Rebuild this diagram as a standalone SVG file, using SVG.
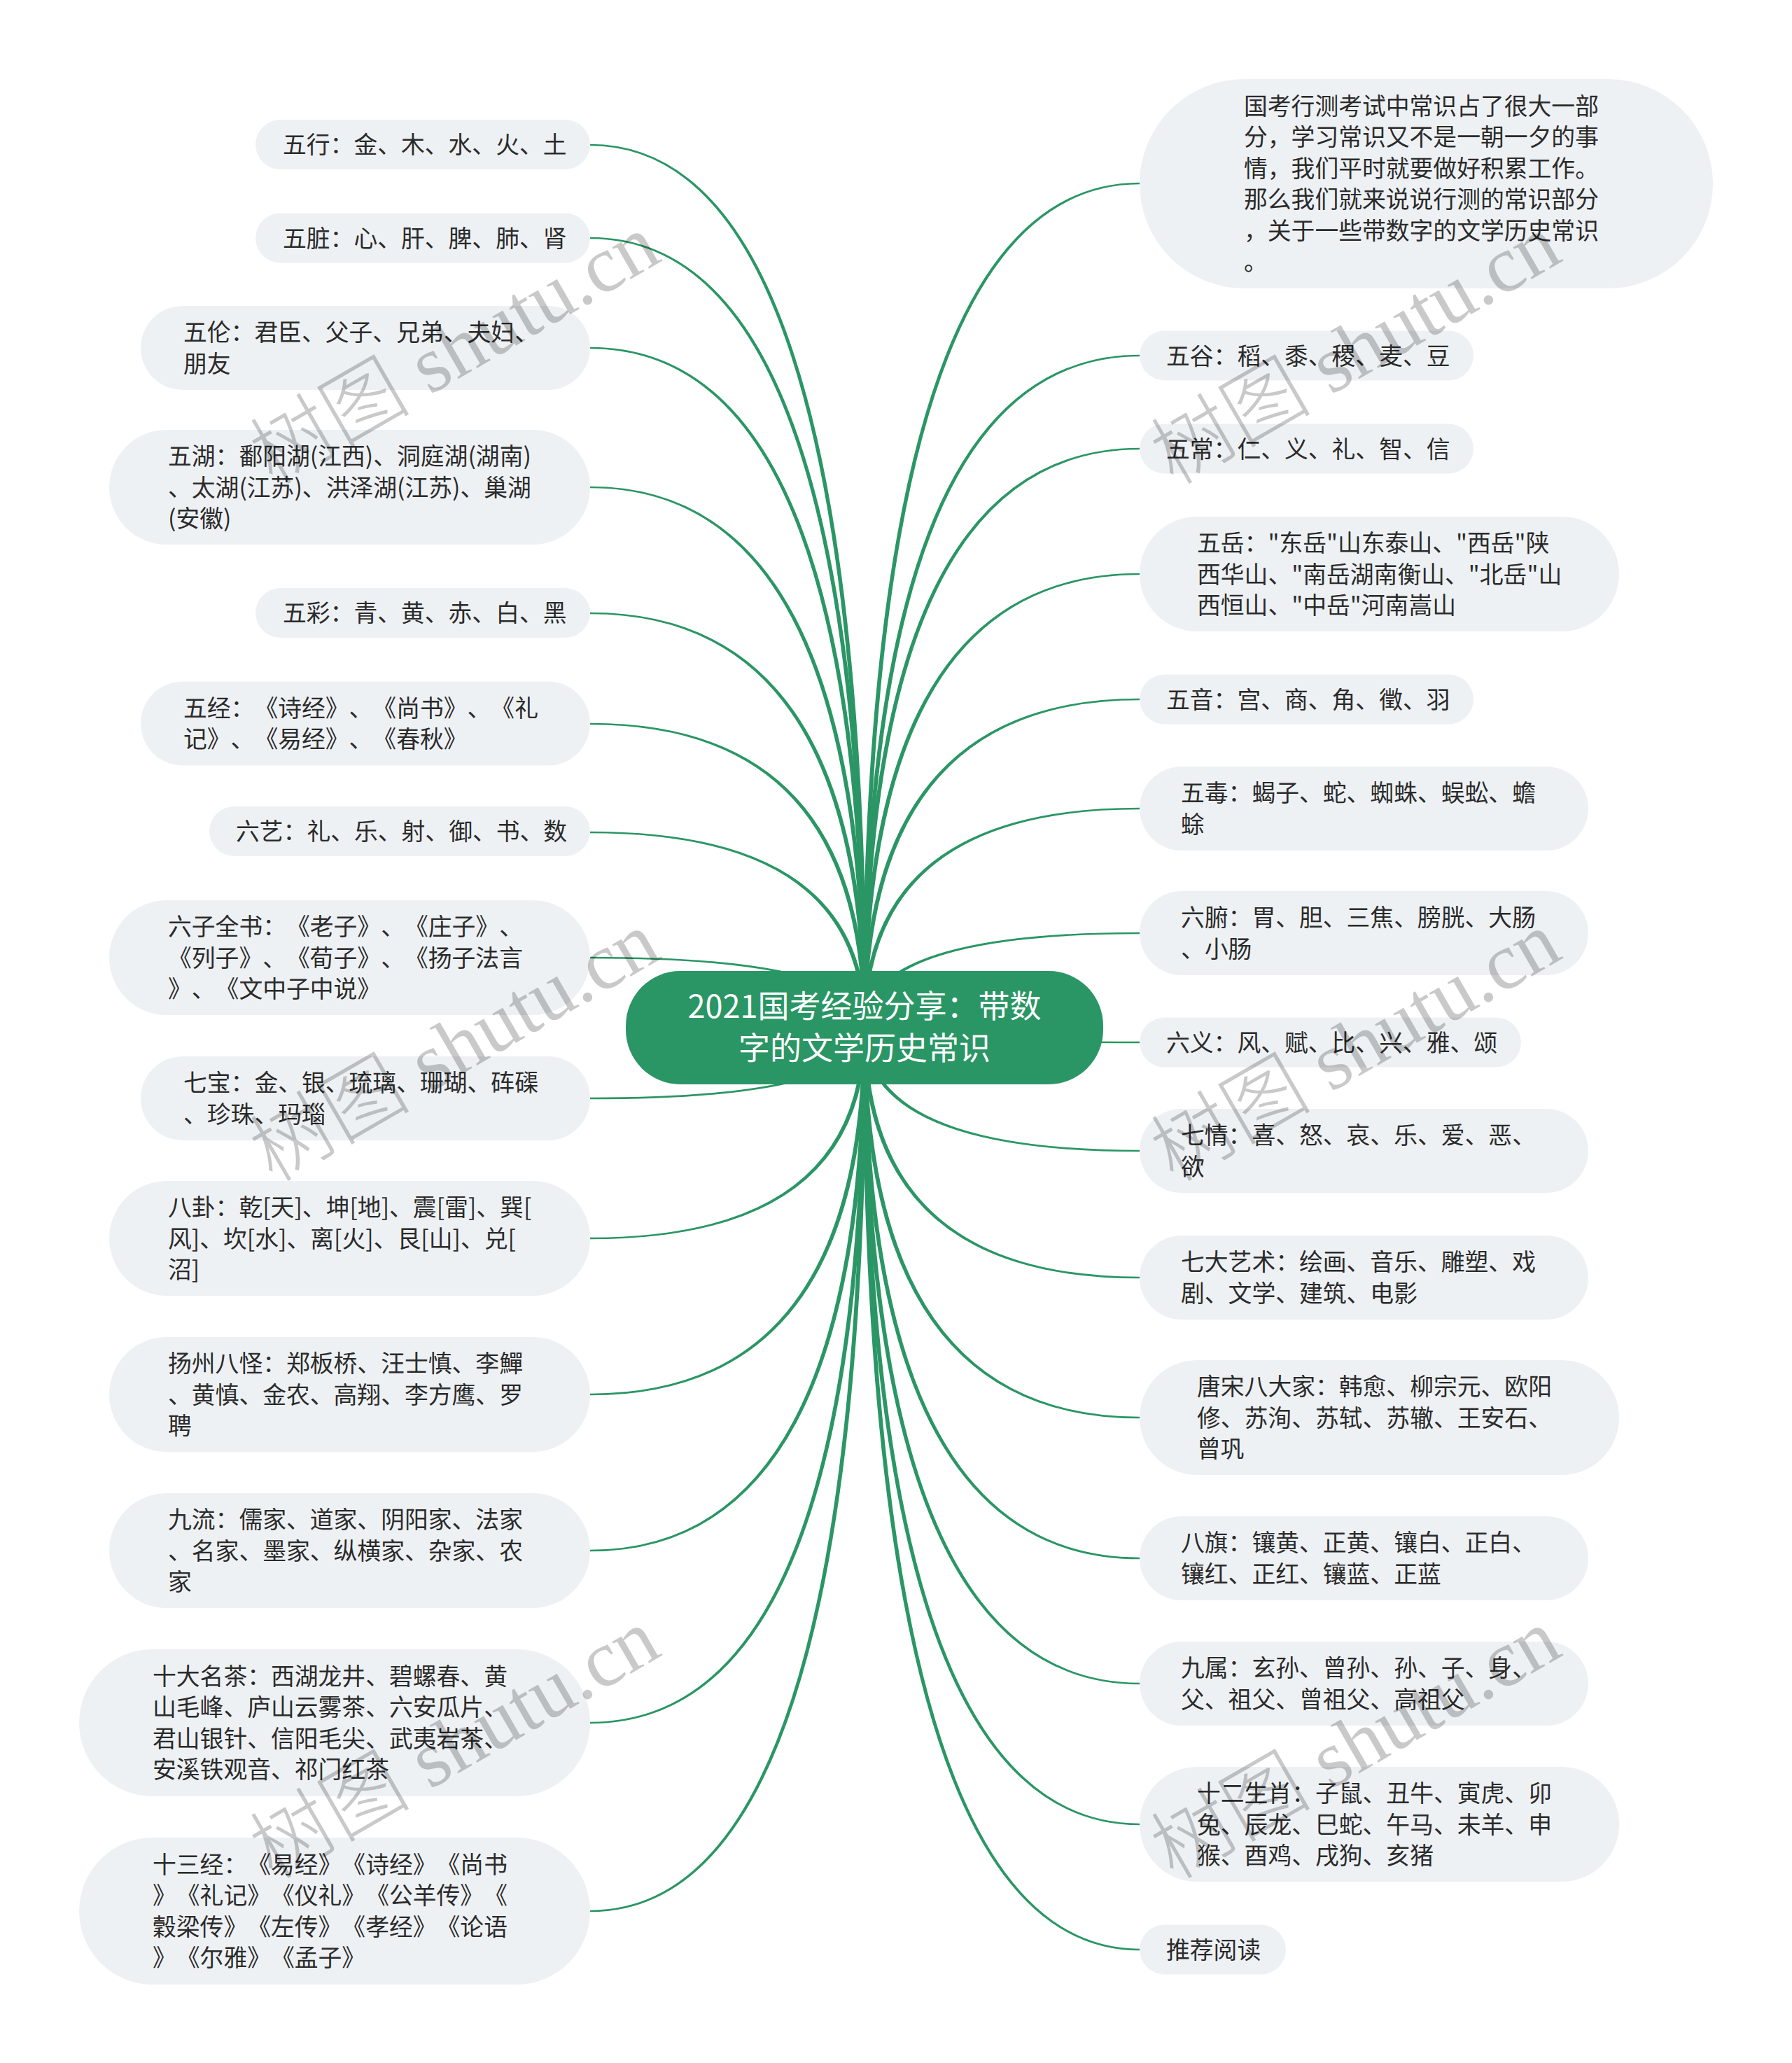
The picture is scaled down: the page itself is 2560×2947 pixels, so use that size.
<svg xmlns="http://www.w3.org/2000/svg" width="2560" height="2947" viewBox="0 0 2560 2947">
<style>
.leaf{fill:#eef1f4}
.t{font-family:"Noto Sans CJK SC","Noto Sans",sans-serif;font-size:33.8px;fill:#2b2b2b;text-spacing-trim:space-all;font-kerning:none}
.root{fill:#2b9665}
.rt{font-family:"Noto Sans CJK SC","Noto Sans",sans-serif;font-size:45px;fill:#ffffff;text-anchor:middle;text-spacing-trim:space-all}
.br{fill:#2b9665}
.wm{font-family:"Liberation Serif","Noto Sans CJK SC",serif;font-size:115px;font-weight:300;fill:#000000;fill-opacity:0.21;text-anchor:middle}
</style>
<rect width="2560" height="2947" fill="#ffffff"/>
<g id="connectors">
<path class="br" d="M1232,1468 Q1232,208.3 843,208.3 L843,205.7 Q1238,205.7 1238,1468Z"/>
<path class="br" d="M1232,1468 Q1232,341.3 843,341.3 L843,338.7 Q1238,338.7 1238,1468Z"/>
<path class="br" d="M1232,1468 Q1232,498.3 843,498.3 L843,495.7 Q1238,495.7 1238,1468Z"/>
<path class="br" d="M1232,1468 Q1232,697.3 843,697.3 L843,694.7 Q1238,694.7 1238,1468Z"/>
<path class="br" d="M1232,1468 Q1232,877.3 843,877.3 L843,874.7 Q1238,874.7 1238,1468Z"/>
<path class="br" d="M1232,1468 Q1232,1035.3 843,1035.3 L843,1032.7 Q1238,1032.7 1238,1468Z"/>
<path class="br" d="M1232,1468 Q1232,1190.3 843,1190.3 L843,1187.7 Q1238,1187.7 1238,1468Z"/>
<path class="br" d="M1232,1468 Q1232,1369.3 843,1369.3 L843,1366.7 Q1238,1366.7 1238,1468Z"/>
<path class="br" d="M1232,1468 Q1232,1567.7 843,1567.7 L843,1570.3 Q1238,1570.3 1238,1468Z"/>
<path class="br" d="M1232,1468 Q1232,1767.7 843,1767.7 L843,1770.3 Q1238,1770.3 1238,1468Z"/>
<path class="br" d="M1232,1468 Q1232,1990.7 843,1990.7 L843,1993.3 Q1238,1993.3 1238,1468Z"/>
<path class="br" d="M1232,1468 Q1232,2213.7 843,2213.7 L843,2216.3 Q1238,2216.3 1238,1468Z"/>
<path class="br" d="M1232,1468 Q1232,2459.7 843,2459.7 L843,2462.3 Q1238,2462.3 1238,1468Z"/>
<path class="br" d="M1232,1468 Q1232,2728.7 843,2728.7 L843,2731.3 Q1238,2731.3 1238,1468Z"/>
<path class="br" d="M1232,1468 Q1232,260.7 1628,260.7 L1628,263.3 Q1238,263.3 1238,1468Z"/>
<path class="br" d="M1232,1468 Q1232,506.7 1628,506.7 L1628,509.3 Q1238,509.3 1238,1468Z"/>
<path class="br" d="M1232,1468 Q1232,639.7 1628,639.7 L1628,642.3 Q1238,642.3 1238,1468Z"/>
<path class="br" d="M1232,1468 Q1232,818.7 1628,818.7 L1628,821.3 Q1238,821.3 1238,1468Z"/>
<path class="br" d="M1232,1468 Q1232,997.7 1628,997.7 L1628,1000.3 Q1238,1000.3 1238,1468Z"/>
<path class="br" d="M1232,1468 Q1232,1153.7 1628,1153.7 L1628,1156.3 Q1238,1156.3 1238,1468Z"/>
<path class="br" d="M1232,1468 Q1232,1331.7 1628,1331.7 L1628,1334.3 Q1238,1334.3 1238,1468Z"/>
<path class="br" d="M1232,1468 Q1232,1490.3 1628,1490.3 L1628,1487.7 Q1238,1487.7 1238,1468Z"/>
<path class="br" d="M1232,1468 Q1232,1645.3 1628,1645.3 L1628,1642.7 Q1238,1642.7 1238,1468Z"/>
<path class="br" d="M1232,1468 Q1232,1826.3 1628,1826.3 L1628,1823.7 Q1238,1823.7 1238,1468Z"/>
<path class="br" d="M1232,1468 Q1232,2026.3 1628,2026.3 L1628,2023.7 Q1238,2023.7 1238,1468Z"/>
<path class="br" d="M1232,1468 Q1232,2227.3 1628,2227.3 L1628,2224.7 Q1238,2224.7 1238,1468Z"/>
<path class="br" d="M1232,1468 Q1232,2406.3 1628,2406.3 L1628,2403.7 Q1238,2403.7 1238,1468Z"/>
<path class="br" d="M1232,1468 Q1232,2607.3 1628,2607.3 L1628,2604.7 Q1238,2604.7 1238,1468Z"/>
<path class="br" d="M1232,1468 Q1232,2786.3 1628,2786.3 L1628,2783.7 Q1238,2783.7 1238,1468Z"/>
</g>
<g id="root">
<rect class="root" x="894" y="1387" width="682" height="162" rx="78"/>
<text class="rt"><tspan x="1235" y="1454">2021国考经验分享：带数</tspan><tspan x="1235" y="1514">字的文学历史常识</tspan></text>
</g>
<g id="n-wuxing"><rect class="leaf" x="365" y="171" width="478" height="71" rx="35.5"/><text class="t" x="404" y="219">五行：金、木、水、火、土</text></g>
<g id="n-wuzang"><rect class="leaf" x="365" y="304.5" width="478" height="71" rx="35.5"/><text class="t" x="404" y="352.5">五脏：心、肝、脾、肺、肾</text></g>
<g id="n-wulun"><rect class="leaf" x="201" y="437" width="642" height="120" rx="60"/><text class="t"><tspan x="262" y="487.25">五伦：君臣、父子、兄弟、夫妇、</tspan><tspan x="262" y="531.75">朋友</tspan></text></g>
<g id="n-wuhu"><rect class="leaf" x="156" y="614" width="687" height="164" rx="82"/><text class="t"><tspan x="240" y="664">五湖：鄱阳湖(江西)、洞庭湖(湖南)</tspan><tspan x="240" y="708.5">、太湖(江苏)、洪泽湖(江苏)、巢湖</tspan><tspan x="240" y="753">(安徽)</tspan></text></g>
<g id="n-wucai"><rect class="leaf" x="365" y="840" width="478" height="71" rx="35.5"/><text class="t" x="404" y="888">五彩：青、黄、赤、白、黑</text></g>
<g id="n-wujing"><rect class="leaf" x="201" y="973.5" width="642" height="120" rx="60"/><text class="t"><tspan x="262" y="1023.75">五经：《诗经》、《尚书》、《礼</tspan><tspan x="262" y="1068.25">记》、《易经》、《春秋》</tspan></text></g>
<g id="n-liuyi"><rect class="leaf" x="299" y="1152" width="544" height="71" rx="35.5"/><text class="t" x="337" y="1200">六艺：礼、乐、射、御、书、数</text></g>
<g id="n-liuzi"><rect class="leaf" x="156" y="1286" width="687" height="164" rx="82"/><text class="t"><tspan x="240" y="1336">六子全书：《老子》、《庄子》、</tspan><tspan x="240" y="1380.5">《列子》、《荀子》、《扬子法言</tspan><tspan x="240" y="1425">》、《文中子中说》</tspan></text></g>
<g id="n-qibao"><rect class="leaf" x="201" y="1509" width="642" height="120" rx="60"/><text class="t"><tspan x="262" y="1559.25">七宝：金、银、琉璃、珊瑚、砗磲</tspan><tspan x="262" y="1603.75">、珍珠、玛瑙</tspan></text></g>
<g id="n-bagua"><rect class="leaf" x="156" y="1687" width="687" height="164" rx="82"/><text class="t"><tspan x="240" y="1737">八卦：乾[天]、坤[地]、震[雷]、巽[</tspan><tspan x="240" y="1781.5">风]、坎[水]、离[火]、艮[山]、兑[</tspan><tspan x="240" y="1826">沼]</tspan></text></g>
<g id="n-yangzhou"><rect class="leaf" x="156" y="1910" width="687" height="164" rx="82"/><text class="t"><tspan x="240" y="1960">扬州八怪：郑板桥、汪士慎、李鱓</tspan><tspan x="240" y="2004.5">、黄慎、金农、高翔、李方鹰、罗</tspan><tspan x="240" y="2049">聘</tspan></text></g>
<g id="n-jiuliu"><rect class="leaf" x="156" y="2133" width="687" height="164" rx="82"/><text class="t"><tspan x="240" y="2183">九流：儒家、道家、阴阳家、法家</tspan><tspan x="240" y="2227.5">、名家、墨家、纵横家、杂家、农</tspan><tspan x="240" y="2272">家</tspan></text></g>
<g id="n-tea"><rect class="leaf" x="113" y="2356" width="730" height="210" rx="105"/><text class="t"><tspan x="218" y="2406.75">十大名茶：西湖龙井、碧螺春、黄</tspan><tspan x="218" y="2451.25">山毛峰、庐山云雾茶、六安瓜片、</tspan><tspan x="218" y="2495.75">君山银针、信阳毛尖、武夷岩茶、</tspan><tspan x="218" y="2540.25">安溪铁观音、祁门红茶</tspan></text></g>
<g id="n-13jing"><rect class="leaf" x="113" y="2625" width="730" height="210" rx="105"/><text class="t"><tspan x="218" y="2675.75">十三经：《易经》《诗经》《尚书</tspan><tspan x="218" y="2720.25">》《礼记》《仪礼》《公羊传》《</tspan><tspan x="218" y="2764.75">穀梁传》《左传》《孝经》《论语</tspan><tspan x="218" y="2809.25">》《尔雅》《孟子》</tspan></text></g>
<g id="r-intro"><rect class="leaf" x="1628" y="113" width="819" height="299" rx="149.5"/><text class="t"><tspan x="1777" y="163.75">国考行测考试中常识占了很大一部</tspan><tspan x="1777" y="208.25">分，学习常识又不是一朝一夕的事</tspan><tspan x="1777" y="252.75">情，我们平时就要做好积累工作。</tspan><tspan x="1777" y="297.25">那么我们就来说说行测的常识部分</tspan><tspan x="1777" y="341.75">，关于一些带数字的文学历史常识</tspan><tspan x="1777" y="386.25">。</tspan></text></g>
<g id="r-wugu"><rect class="leaf" x="1628" y="472.5" width="477" height="71" rx="35.5"/><text class="t" x="1666" y="520.5">五谷：稻、黍、稷、麦、豆</text></g>
<g id="r-wuchang"><rect class="leaf" x="1628" y="605.5" width="477" height="71" rx="35.5"/><text class="t" x="1666" y="653.5">五常：仁、义、礼、智、信</text></g>
<g id="r-wuyue"><rect class="leaf" x="1628" y="738" width="685" height="164" rx="82"/><text class="t"><tspan x="1710" y="788">五岳："东岳"山东泰山、"西岳"陕</tspan><tspan x="1710" y="832.5">西华山、"南岳湖南衡山、"北岳"山</tspan><tspan x="1710" y="877">西恒山、"中岳"河南嵩山</tspan></text></g>
<g id="r-wuyin"><rect class="leaf" x="1628" y="963.5" width="477" height="71" rx="35.5"/><text class="t" x="1666" y="1011.5">五音：宫、商、角、徵、羽</text></g>
<g id="r-wudu"><rect class="leaf" x="1628" y="1095" width="641" height="120" rx="60"/><text class="t"><tspan x="1687" y="1145.25">五毒：蝎子、蛇、蜘蛛、蜈蚣、蟾</tspan><tspan x="1687" y="1189.75">蜍</tspan></text></g>
<g id="r-liufu"><rect class="leaf" x="1628" y="1273" width="641" height="120" rx="60"/><text class="t"><tspan x="1687" y="1323.25">六腑：胃、胆、三焦、膀胱、大肠</tspan><tspan x="1687" y="1367.75">、小肠</tspan></text></g>
<g id="r-liuyi"><rect class="leaf" x="1628" y="1453.5" width="545" height="71" rx="35.5"/><text class="t" x="1666" y="1501.5">六义：风、赋、比、兴、雅、颂</text></g>
<g id="r-qiqing"><rect class="leaf" x="1628" y="1584" width="641" height="120" rx="60"/><text class="t"><tspan x="1687" y="1634.25">七情：喜、怒、哀、乐、爱、恶、</tspan><tspan x="1687" y="1678.75">欲</tspan></text></g>
<g id="r-art"><rect class="leaf" x="1628" y="1765" width="641" height="120" rx="60"/><text class="t"><tspan x="1687" y="1815.25">七大艺术：绘画、音乐、雕塑、戏</tspan><tspan x="1687" y="1859.75">剧、文学、建筑、电影</tspan></text></g>
<g id="r-tangsong"><rect class="leaf" x="1628" y="1943" width="685" height="164" rx="82"/><text class="t"><tspan x="1710" y="1993">唐宋八大家：韩愈、柳宗元、欧阳</tspan><tspan x="1710" y="2037.5">修、苏洵、苏轼、苏辙、王安石、</tspan><tspan x="1710" y="2082">曾巩</tspan></text></g>
<g id="r-baqi"><rect class="leaf" x="1628" y="2166" width="641" height="120" rx="60"/><text class="t"><tspan x="1687" y="2216.25">八旗：镶黄、正黄、镶白、正白、</tspan><tspan x="1687" y="2260.75">镶红、正红、镶蓝、正蓝</tspan></text></g>
<g id="r-jiushu"><rect class="leaf" x="1628" y="2345" width="641" height="120" rx="60"/><text class="t"><tspan x="1687" y="2395.25">九属：玄孙、曾孙、孙、子、身、</tspan><tspan x="1687" y="2439.75">父、祖父、曾祖父、高祖父</tspan></text></g>
<g id="r-zodiac"><rect class="leaf" x="1628" y="2524" width="685" height="164" rx="82"/><text class="t"><tspan x="1710" y="2574">十二生肖：子鼠、丑牛、寅虎、卯</tspan><tspan x="1710" y="2618.5">兔、辰龙、巳蛇、午马、未羊、申</tspan><tspan x="1710" y="2663">猴、酉鸡、戌狗、亥猪</tspan></text></g>
<g id="r-read"><rect class="leaf" x="1628" y="2749.5" width="209" height="71" rx="35.5"/><text class="t" x="1666" y="2797.5">推荐阅读</text></g>
<g id="watermarks">
<text class="wm" transform="translate(650,500) rotate(-30)" x="0" y="38">树图 shutu.cn</text>
<text class="wm" transform="translate(1937,500) rotate(-30)" x="0" y="38">树图 shutu.cn</text>
<text class="wm" transform="translate(650,1496) rotate(-30)" x="0" y="38">树图 shutu.cn</text>
<text class="wm" transform="translate(1937,1496) rotate(-30)" x="0" y="38">树图 shutu.cn</text>
<text class="wm" transform="translate(650,2492) rotate(-30)" x="0" y="38">树图 shutu.cn</text>
<text class="wm" transform="translate(1937,2492) rotate(-30)" x="0" y="38">树图 shutu.cn</text>
</g>
</svg>
